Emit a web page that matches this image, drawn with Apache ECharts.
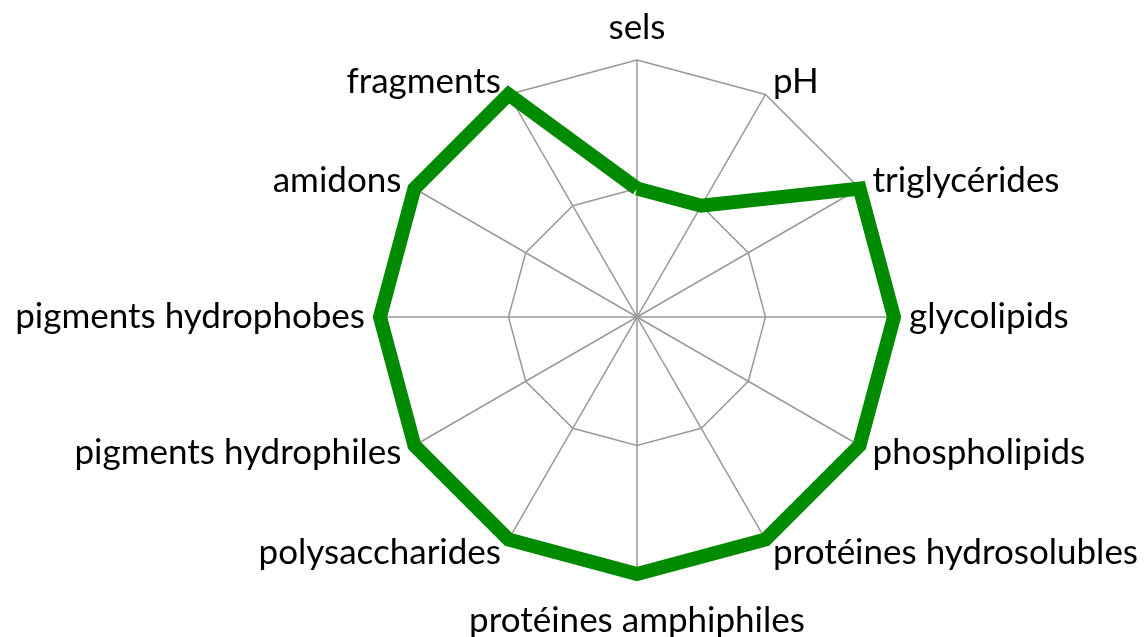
<!DOCTYPE html>
<html>
<head>
<meta charset="utf-8">
<script src="https://cdn.jsdelivr.net/npm/echarts@6/dist/echarts.min.js"></script>
<style>
  html, body { margin: 0; padding: 0; background: #fff; }
  #main { width: 1148px; height: 637px; }
</style>
</head>
<body>
<div id="main"></div>
<script>
// axes in clockwise order, starting at the top
const axisNames = [
  'sels', 'pH', 'triglycérides', 'glycolipids', 'phospholipids',
  'protéines hydrosolubles', 'protéines amphiphiles', 'polysaccharides',
  'pigments hydrophiles', 'pigments hydrophobes', 'amidons', 'fragments'
]
const values = [0.5, 0.5, 1, 1, 1, 1, 1, 1, 1, 1, 1, 1]
const axisMax = 1

// echarts lays radar indicators counter-clockwise, so keep the first and flip the rest
const order = [0].concat(axisNames.map((_, i) => i).slice(1).reverse())
const indicators = order.map((i) => ({ name: axisNames[i], min: 0, max: axisMax }))
const seriesData = order.map((i) => values[i])

const myChart = echarts.init(document.getElementById('main'))

const option = {
  animation: false,
  radar: {
    center: [637, 317],
    radius: 257,
    startAngle: 90,
    shape: 'polygon',
    splitNumber: 2,
    indicator: indicators,
    axisName: {
      color: '#000',
      fontFamily: 'Lato',
      fontSize: 35,
      padding: [14, 0, 0, 0]
    },
    nameGap: 15,
    splitArea: { show: false },
    splitLine: { lineStyle: { color: '#9a9a9a', width: 1.5 } },
    axisLine: { lineStyle: { color: '#9a9a9a', width: 1.5 } }
  },
  series: [
    {
      type: 'radar',
      symbol: 'none',
      lineStyle: { color: '#008a00', width: 14, join: 'miter' },
      data: [{ value: seriesData }]
    }
  ]
}

myChart.setOption(option)
</script>
</body>
</html>
